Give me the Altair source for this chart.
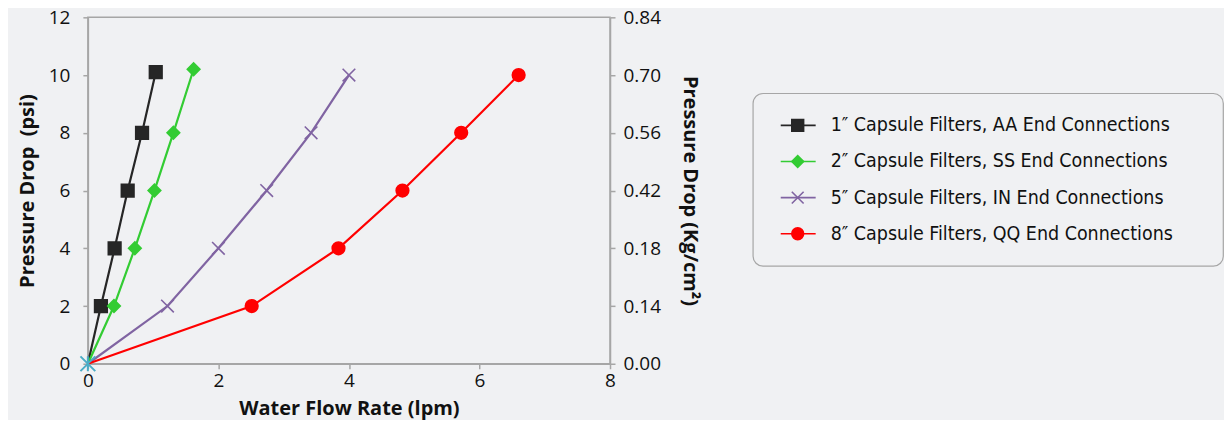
import altair as alt
import pandas as pd

# ---- data ----
series_names = [
    "1\u2033 Capsule Filters, AA End Connections",
    "2\u2033 Capsule Filters, SS End Connections",
    "5\u2033 Capsule Filters, IN End Connections",
    "8\u2033 Capsule Filters, QQ End Connections",
]
black_x = [0, 0.20, 0.41, 0.61, 0.83, 1.04]
black_y = [0, 2, 4, 6, 8, 10.1]
green_x = [0, 0.40, 0.72, 1.02, 1.31, 1.62]
green_y = [0, 2, 4, 6, 8, 10.2]
purple_x = [0, 1.22, 2.00, 2.74, 3.42, 4.00]
purple_y = [0, 2, 4, 6, 8, 10]
red_x = [0, 2.51, 3.84, 4.82, 5.72, 6.60]
red_y = [0, 2, 4, 6, 8, 10]

x_ticks = [0, 2, 4, 6, 8]
y_ticks = [0, 2, 4, 6, 8, 10, 12]
right_labels = ["0.00", "0.14", "0.18", "0.42", "0.56", "0.70", "0.84"]

colors = ["#262626", "#33cc33", "#8064a2", "#ff0000"]
XPATH = "M-1,-1L1,1M-1,1L1,-1"
shapes = ["square", "diamond", XPATH, "circle"]

rows = []
for name, xs_, ys_ in zip(series_names,
                          [black_x, green_x, purple_x, red_x],
                          [black_y, green_y, purple_y, red_y]):
    for i, (a, b) in enumerate(zip(xs_, ys_)):
        rows.append({"series": name, "flow": a, "psi": b, "order": i})
df = pd.DataFrame(rows)
origin = pd.DataFrame({"flow": [0.0], "psi": [0.0]})

FONT = "Open Sans"
LFONT = "Liberation Sans Narrow, DejaVu Sans Condensed, Open Sans"
GREY = "#a6a6a6"

color_enc = alt.Color("series:N", scale=alt.Scale(domain=series_names, range=colors), legend=None)
stroke_enc = alt.Stroke("series:N", scale=alt.Scale(domain=series_names, range=colors), legend=None)
shape_enc = alt.Shape("series:N", scale=alt.Scale(domain=series_names, range=shapes), legend=None)

xs = alt.Scale(domain=[0, 8], nice=False, zero=True)
ys = alt.Scale(domain=[0, 12], nice=False, zero=True)

x_axis = alt.Axis(values=x_ticks, format="d", title="Water Flow Rate (lpm)", grid=False,
                  labelFlush=False, tickSize=5, labelPadding=3, titlePadding=8)
y_axis = alt.Axis(values=y_ticks, format="d", title="Pressure Drop\u00a0 (psi)", grid=False,
                  labelFlush=False, tickSize=5, labelPadding=13, titlePadding=11)
label_expr = "[" + ",".join("'%s'" % s for s in right_labels) + "][round(datum.value/2)]"
r_axis = alt.Axis(orient="right", values=y_ticks, labelExpr=label_expr,
                  title="Pressure Drop (Kg/cm\u00b2)", grid=False, labelFlush=False,
                  tickSize=5, labelPadding=8, titlePadding=19)

X = lambda: alt.X("flow:Q", scale=xs, axis=x_axis)
Y = lambda ax=None: alt.Y("psi:Q", scale=ys, axis=ax)

lines = alt.Chart(df).mark_line(strokeWidth=2.2).encode(
    x=X(), y=Y(y_axis), color=color_enc, order="order:Q")

points = alt.Chart(df).transform_filter("datum.order > 0").mark_point(
    filled=True, size=160, strokeWidth=1.6, opacity=1).encode(
    x=X(), y=Y(), color=color_enc, stroke=stroke_enc, shape=shape_enc)

star = alt.Chart(origin).mark_point(
    shape="M-1,-1L1,1M-1,1L1,-1M0,-1L0,1", size=220, color="#4bacc6",
    strokeWidth=2, filled=False, opacity=1).encode(x=X(), y=Y())

right = alt.Chart(origin).mark_point(opacity=0).encode(x=X(), y=Y(r_axis))

main = alt.layer(lines, right, points, star).resolve_axis(y="independent").properties(
    width=523, height=347)

# ---- legend panel ----
leg_df = pd.DataFrame({"series": series_names})
ly = alt.Y("series:N", scale=alt.Scale(domain=series_names, padding=0.78), axis=None)
leg_line = alt.Chart(leg_df).mark_rule(strokeWidth=1.6).encode(
    x=alt.value(28), x2=alt.value(63), y=ly, color=color_enc)
leg_pt = alt.Chart(leg_df).mark_point(filled=True, size=140, strokeWidth=1.6, opacity=1).encode(
    x=alt.value(45), y=ly, color=color_enc, stroke=stroke_enc, shape=shape_enc)
leg_txt = alt.Chart(leg_df).mark_text(align="left", baseline="middle", font=LFONT,
                                      fontSize=19.5, color="#111111").encode(
    x=alt.value(78), y=ly, text="series:N")
legend = alt.layer(leg_line, leg_pt, leg_txt).properties(
    width=471, height=173,
    view=alt.ViewBackground(stroke=GREY, strokeWidth=1.2, cornerRadius=10, fill=None))

spacer = alt.Chart(origin).mark_point(opacity=0).properties(
    width=10, height=65, view=alt.ViewBackground(stroke=None))

right_col = alt.vconcat(spacer, legend, spacing=10)

chart = alt.hconcat(main, right_col, spacing=51).properties(
    padding={"left": 8, "top": -1, "right": 0, "bottom": 0},
    background="#f0f1f3",
).configure_view(stroke=GREY, strokeWidth=1.5).configure_axis(
    domainColor=GREY, domainWidth=1.5, tickColor=GREY, tickWidth=1.5,
    labelFont=FONT, labelFontSize=19, labelColor="#111111",
    titleFont=FONT, titleFontSize=20, titleFontWeight="bold", titleColor="#111111",
)

chart.save("out.html", embed_options={"renderer": "svg", "actions": False})
